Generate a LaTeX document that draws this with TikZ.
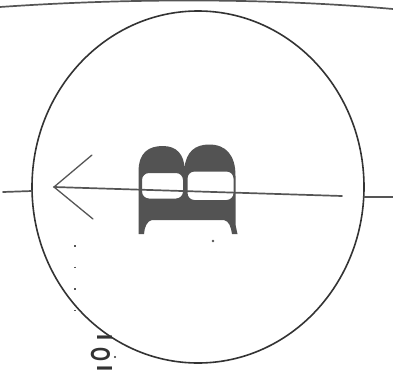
\documentclass[tikz,border=0pt]{standalone}
\usepackage{fontspec}
\setmainfont{Liberation Serif}
\setsansfont{Liberation Sans}
\usetikzlibrary{calc}
\definecolor{ink}{HTML}{333333}
\definecolor{inkl}{HTML}{555555}
\definecolor{bfill}{HTML}{535353}
\tikzset{
  pen/.style={draw=ink, line width=1.6pt, line cap=round},
  penl/.style={draw=inkl, line width=1.7pt, line cap=round},
  penh/.style={draw=inkl, line width=1.3pt, line cap=round},
  dotline/.style={draw=inkl, line width=1.6pt, dash pattern=on 1.6pt off 20pt},
}
\begin{document}
\begin{tikzpicture}[x=1pt,y=-1pt]
\useasboundingbox (0,0) rectangle (393,372);
% top line
\coordinate (tl) at (0,7);
\coordinate (tr) at (393,9);
\draw[penl] (tl) .. controls (130,-2) and (270,-2) .. (tr);
% circle
\coordinate (c) at (198,187);
\draw[pen] (c) ellipse [x radius=166, y radius=176];
% axis
\coordinate (l0) at (3,192);
\coordinate (l1) at (32,191);
\coordinate (tip) at (54,187);
\coordinate (lend) at (342,196);
\coordinate (r0) at (364,197);
\coordinate (r1) at (393,197);
\coordinate (h1) at (92,155);
\coordinate (h2) at (93,219);
\draw[penl] (l0) -- (l1);
\draw[penl] (tip) -- (lend);
\draw[penl] (r0) -- (r1);
\draw[penh] (h1) -- (tip) -- (h2);
% B lying on its side
\fill[bfill, even odd rule]
  (138.5,234) -- (138.5,172)
  .. controls (138.5,152) and (149,146) .. (163,146)
  .. controls (177,146) and (184,155) .. (184.5,168)
  .. controls (186,152) and (195,144.5) .. (209,144.5)
  .. controls (226,144.5) and (235.5,155) .. (235.5,176)
  -- (235.5,224) .. controls (236,228) and (237,231) .. (237.5,234)
  -- (232,234)
  .. controls (231,227) and (229,221) .. (224,220)
  -- (152,220)
  .. controls (147,221) and (144.5,227) .. (144,234) -- cycle
  [rounded corners=7pt] (142,173) rectangle (183,198.5)
  (187.5,171.5) rectangle (233.5,200);
\coordinate (B) at (187,190);
% dot below B
\fill[inkl] (213,241) circle (1.3);
% dotted vertical line
\coordinate (d0) at (75,245);
\coordinate (d1) at (75,322);
\draw[dotline] (d0) -- (d1);
% small sideways text
\node[text=ink, rotate=-90, inner sep=0pt, font=\sffamily\bfseries] (iqi) at (101.5,353)
  {\raisebox{6pt}{\resizebox{!}{15pt}{I}}\hspace{7pt}\resizebox{14pt}{19pt}{O}\hspace{4pt}\raisebox{6pt}{\resizebox{!}{15pt}{I}}};
\fill[ink] (115,357) circle (1.2);
\end{tikzpicture}
\end{document}
